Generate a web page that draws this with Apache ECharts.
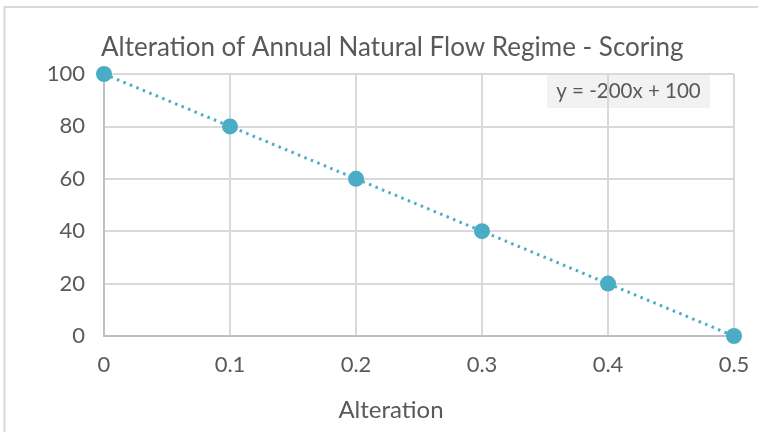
<!DOCTYPE html>
<html><head><meta charset="utf-8">
<script src="https://cdn.jsdelivr.net/npm/echarts@6/dist/echarts.min.js"></script>
<style>html,body{margin:0;padding:0;background:#fff}#c{width:758px;height:432px}</style>
</head><body><div id="c"></div>
<script>
const xValues = [0, 0.1, 0.2, 0.3, 0.4, 0.5];
const yValues = [100, 80, 60, 40, 20, 0];
const titleText = 'Alteration of Annual Natural Flow Regime - Scoring';
const xAxisName = 'Alteration';
const equationText = 'y = -200x + 100';

const FONT = 'Lato, "Open Sans", sans-serif';
const chart = echarts.init(document.getElementById('c'), null, {renderer: 'canvas'});
const pts = xValues.map((x, i) => [x, yValues[i]]);
chart.setOption({
  animation: false,
  title: {text: titleText, left: 96, top: 30, textStyle: {fontFamily: FONT, fontWeight: 'normal', fontSize: 26, color: '#595959'}},
  graphic: [
    {type: 'rect', shape: {x: 4.5, y: 7, width: 800, height: 500}, style: {fill: 'none', stroke: '#d9d9d9', lineWidth: 2}, z: -1},
    {type: 'group', left: 547, top: 73, children: [
      {type: 'rect', shape: {x: 0, y: 0, width: 163, height: 35}, style: {fill: '#f2f2f2'}},
      {type: 'text', x: 81.5, y: 18, style: {text: equationText, fontFamily: FONT, fontSize: 20.5, fill: '#595959', align: 'center', verticalAlign: 'middle'}}
    ]}
  ],
  grid: {left: 104, right: 24, top: 74, bottom: 96},
  xAxis: {
    type: 'value', min: 0, max: 0.5, interval: 0.1,
    name: xAxisName, nameLocation: 'middle', nameGap: 62,
    nameTextStyle: {fontFamily: FONT, fontSize: 24, color: '#595959', padding: [0, 56, 0, 0]},
    axisLine: {show: true, lineStyle: {color: '#bfbfbf', width: 2}},
    axisTick: {show: false},
    axisLabel: {fontFamily: FONT, fontSize: 22, color: '#595959', margin: 18},
    splitLine: {show: true, lineStyle: {color: '#d9d9d9', width: 2}}
  },
  yAxis: {
    type: 'value', min: 0, max: 100, interval: 20,
    axisLine: {show: true, lineStyle: {color: '#bfbfbf', width: 2}},
    axisTick: {show: false},
    axisLabel: {fontFamily: FONT, fontSize: 22, color: '#595959', margin: 19},
    splitLine: {show: true, lineStyle: {color: '#d9d9d9', width: 2}}
  },
  series: [{
    type: 'line', data: pts, symbol: 'circle', symbolSize: 16,
    itemStyle: {color: '#4bacc6'},
    lineStyle: {color: '#4bacc6', width: 3, type: [2.5, 4.5]},
    clip: false
  }]
});
</script></body></html>
